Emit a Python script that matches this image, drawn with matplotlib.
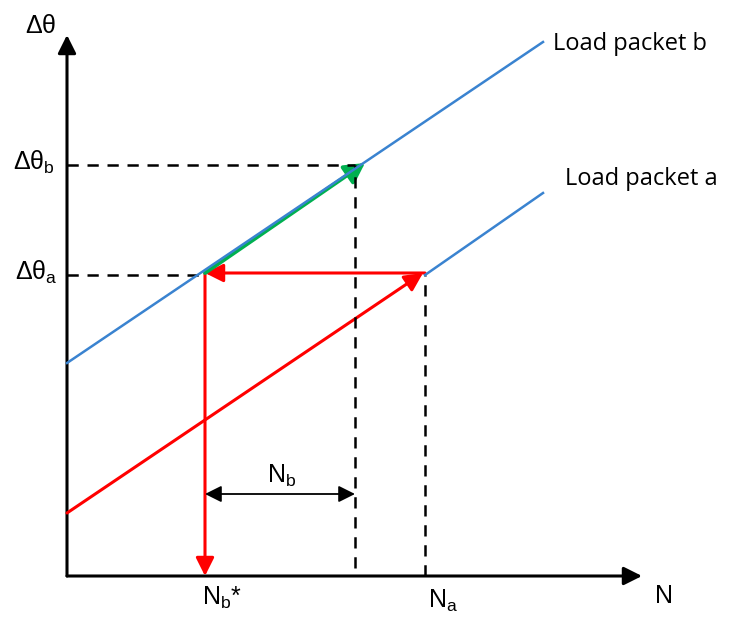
import matplotlib
matplotlib.use("Agg")
import matplotlib.pyplot as plt
from matplotlib.patches import FancyArrowPatch

# Diagram values (arbitrary units; origin at the axis corner)
N_axis_end = 575
dtheta_axis_end = 541
line_b_N = [0, 476]
line_b_dtheta = [213, 534]
line_a_red_N = [0, 356]
line_a_red_dtheta = [63, 303]
line_a_blue_N = [358, 476]
line_a_blue_dtheta = [301, 383]
N_a = 358
N_b_star = 138
N_b_end = 288
dtheta_a = 301
dtheta_b = 411
green_N = [138, 298]
green_dtheta = [303, 413]
nb_arrow_level = 82

fig = plt.figure(figsize=(7.30, 6.19), dpi=100)
ax = fig.add_axes([0, 0, 1, 1])
ax.set_xlim(-67, 663)
ax.set_ylim(-43, 576)
ax.axis("off")

blue = "#3a83d0"
red = "#ff0000"
green = "#00b050"

def arrow(p0, p1, color, lw, style="-|>,head_length=0.5,head_width=0.25", ms=22):
    a = FancyArrowPatch(p0, p1, arrowstyle=style, mutation_scale=ms,
                        color=color, lw=lw, shrinkA=0, shrinkB=0)
    ax.add_patch(a)

# axes
arrow((0, 0), (0, dtheta_axis_end), "black", 2.2)
arrow((0, 0), (N_axis_end, 0), "black", 2.2)

# dashed guides
dash = dict(color="black", lw=1.8, ls=(0, (4.5, 3.5)))
ax.plot([0, N_b_end], [dtheta_b, dtheta_b], **dash)
ax.plot([N_b_end, N_b_end], [8, dtheta_b], **dash)
ax.plot([0, N_b_star], [dtheta_a, dtheta_a], **dash)
ax.plot([N_a, N_a], [0, dtheta_a], **dash)

# lines
ax.plot(line_b_N, line_b_dtheta, color=blue, lw=1.8)
ax.plot(line_a_blue_N, line_a_blue_dtheta, color=blue, lw=1.8)

# red path
arrow((line_a_red_N[0], line_a_red_dtheta[0]), (line_a_red_N[1], line_a_red_dtheta[1]), red, 2.2)
arrow((N_a, dtheta_a + 2), (N_b_star, dtheta_a + 2), red, 2.2)
arrow((N_b_star, dtheta_a + 2), (N_b_star, 0), red, 2.2)

# green arrow
arrow((green_N[0], green_dtheta[0]), (green_N[1], green_dtheta[1]), green, 2.8,
      style="-|>,head_length=0.55,head_width=0.3")

# Nb double arrow
arrow((N_b_star, nb_arrow_level), (N_b_end, nb_arrow_level), "black", 1.3,
      style="<|-|>,head_length=0.5,head_width=0.25", ms=20)

lab = dict(family="Liberation Sans", fontsize=18, color="black", va="baseline", ha="left")
ax.text(-42, 543, r"$\mathregular{\Delta\theta}$", **lab)
ax.text(-54, 406, r"$\mathregular{\Delta\theta_b}$", **lab)
ax.text(-52, 296, r"$\mathregular{\Delta\theta_a}$", **lab)
ax.text(588, -27, "N", **lab)
ax.text(135, -29, r"$\mathregular{N_b}$*", **lab)
ax.text(361, -32, r"$\mathregular{N_a}$", **lab)
ax.text(200, 93, r"$\mathregular{N_b}$", **lab)

lp = dict(family="Open Sans", fontsize=17, color="black", ha="left", va="baseline")
ax.text(486, 526, "Load packet b", **lp)
ax.text(498, 391, "Load packet a", **lp)

fig.savefig("out.png", dpi=100)
